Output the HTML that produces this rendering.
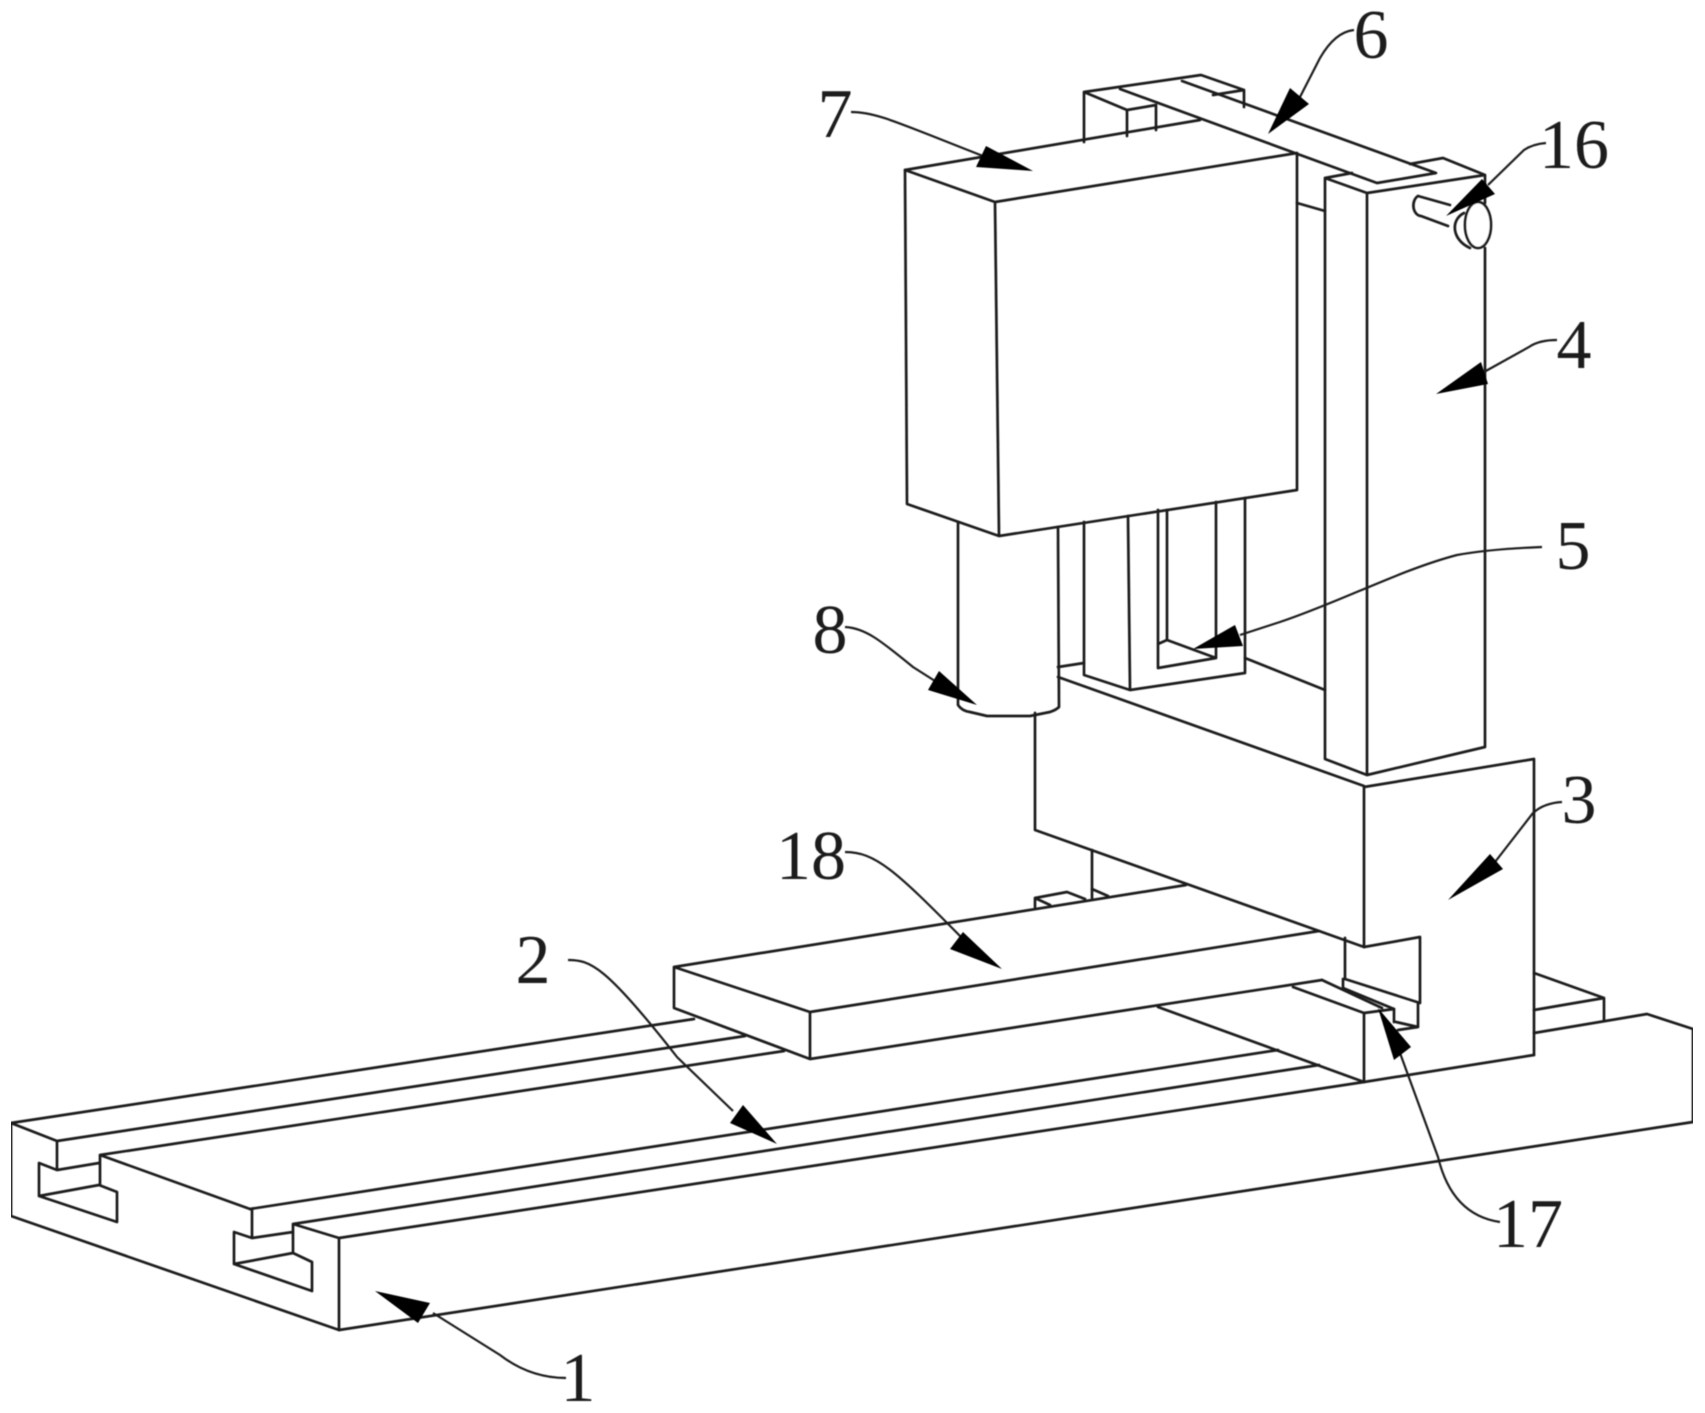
<!DOCTYPE html>
<html><head><meta charset="utf-8"><style>
html,body{margin:0;padding:0;background:#fff}
svg{display:block}
.l{fill:none;stroke:#1c1c1c;stroke-width:2.7;stroke-linejoin:round;stroke-linecap:round}
.c{fill:none;stroke:#1c1c1c;stroke-width:2.2}
.a{fill:#000}
text{font-family:"Liberation Serif",serif;font-size:70px;fill:#1a1a1a;text-anchor:middle}
</style></head><body>
<svg width="1705" height="1413" viewBox="0 0 1705 1413" xmlns="http://www.w3.org/2000/svg">
<defs><filter id="b" x="0" y="0" width="100%" height="100%"><feGaussianBlur stdDeviation="0.65"/></filter></defs>
<g filter="url(#b)">
<!-- base -->
<g class="l">
<path d="M11 1123V1216L339 1330V1238"/>
<path d="M339 1330L1693 1122V1029L1647 1014L1534 1033"/>
<path d="M11 1123L694 1019M11 1123L57 1141L745 1036M57 1141V1170L99 1163M57 1170L39 1163V1196L99 1185M39 1196L117 1222V1192L99 1185M100 1155V1185M100 1155L784 1051M100 1155L250 1209"/>
<path d="M252 1209V1238L293 1232M252 1238L234 1232V1264L293 1253M234 1264L312 1291V1262L293 1253M293 1224V1253M250 1209L1278 1050M293 1224L339 1238M293 1224L1319 1065M339 1238L1364 1082L1534 1055"/>
<path d="M1158 1007L1364 1082"/>
<!-- plate -->
<path d="M674 967V1008L810 1059V1012L674 967L1186 885M810 1012L1319 931M810 1059L1322 980"/>
<!-- column -->
<path d="M1035 713V830L1364 947M1092 850V898M1364 787V947M1534 759V1055M1364 787L1534 759M1364 1013V1082"/>
<path d="M1058 677L1364 786"/>
<path d="M1035 907V898L1067 892L1085 899M1035 898L1050 905M1092 889L1108 896"/>
<!-- foot back -->
<path d="M1534 973L1604 998V1020M1534 1010L1604 998"/>
<!-- slot -->
<path d="M1364 947L1420 937V1003L1345 979V938M1345 979L1343 979V988L1394 1009V1022M1418 1003V1027L1396 1022M1418 1027L1398 1030"/>
<path d="M1322 980L1382 1008M1293 987L1364 1013L1394 1009"/>
<!-- post -->
<path d="M1325 178V759L1367 775L1485 747V248M1485 175V203M1367 193V775M1325 178L1367 193L1485 175L1443 158L1410 164M1325 178L1352 173"/>
<path d="M1297 203L1325 211"/>
<path d="M1245 658L1325 690"/>
<!-- arm -->
<path d="M1120 89L1377 183L1436 173L1182 81"/>
<path d="M1084 92L1201 75L1244 90V107M1213 95L1244 90M1084 92V142M1084 92L1127 110L1156 105M1127 110V136M1156 105V130"/>
<path d="M905 170L1200 120"/>
<!-- housing -->
<path d="M905 170L995 202L1297 153M905 170L907 504L999 536L1297 490V153M995 202L999 536"/>
<!-- cylinder -->
<path d="M958 522V705Q962 711 970 712L987 716H1030L1050 712Q1056 710 1059 707L1058 527"/>
<!-- window -->
<path d="M1084 522V675L1130 690L1245 673V498M1128 516L1130 690M1158 510V668L1216 658V502M1167 510V640M1158 644L1167 640L1216 658"/>
<path d="M1058 667L1084 663"/>
</g>
<!-- bolt -->
<g class="l">
<path d="M1418 196L1450 205M1421 216L1448 226M1418 196A8 10.5 0 0 0 1421 216"/>
<ellipse cx="1478" cy="225" rx="13" ry="23" fill="#fff"/>
<path d="M1464 213C1450 220 1452 240 1470 248"/>
</g>
<g class="c">
<path d="M1300 97L1320 58Q1335 32 1354 30"/>
<path d="M1488 185L1524 150Q1533 144 1546 143"/>
<path d="M1484 372L1529 347Q1539 340 1557 340"/>
<path d="M1240 635L1280 622C1340 602 1400 570 1457 555Q1490 549 1542 547"/>
<path d="M851 112C876 112 896 122 983 156"/>
<path d="M845 627C865 628 880 640 913 667L935 681"/>
<path d="M1495 862L1533 813Q1544 803 1562 802"/>
<path d="M845 852C875 852 895 870 962 938"/>
<path d="M568 960C590 960 605 965 677 1057L733 1111"/>
<path d="M1400 1053L1438 1157Q1452 1215 1500 1222"/>
<path d="M433 1313L500 1355Q530 1378 566 1378"/>
</g>
<!-- arrowheads -->
<polygon class="a" points="1268,134 1290,88 1309,104"/>
<polygon class="a" points="1446,216 1482,179 1495,194"/>
<polygon class="a" points="1436,394 1481,362 1488,384"/>
<polygon class="a" points="1193,649 1235,625 1243,646"/>
<polygon class="a" points="1033,171 986,146 976,167"/>
<polygon class="a" points="977,705 939,671 928,690"/>
<polygon class="a" points="1448,900 1490,854 1503,869"/>
<polygon class="a" points="1002,969 963,932 950,949"/>
<polygon class="a" points="777,1144 743,1105 730,1123"/>
<polygon class="a" points="1378,1008 1411,1047 1394,1060"/>
<polygon class="a" points="375,1291 430,1303 418,1323"/>
<text x="578" y="1401">1</text>
<text x="533" y="983">2</text>
<text x="1579" y="823">3</text>
<text x="1574" y="368">4</text>
<text x="1573" y="569">5</text>
<text x="1371" y="58">6</text>
<text x="835" y="137">7</text>
<text x="830" y="653">8</text>
<text x="1574" y="168">16</text>
<text x="1528" y="1247">17</text>
<text x="811" y="879">18</text>
</g>
</svg>
</body></html>
